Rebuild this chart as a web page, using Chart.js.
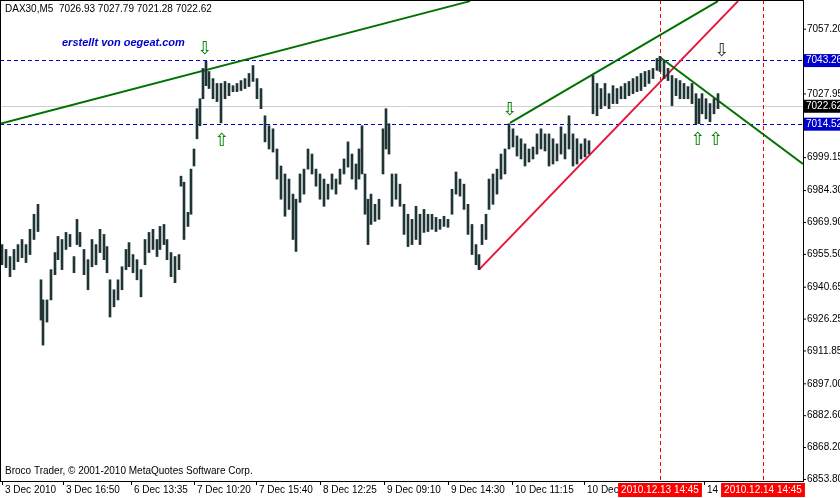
<!DOCTYPE html>
<html><head><meta charset="utf-8">
<script src="https://cdn.jsdelivr.net/npm/chart.js@4.4.1/dist/chart.umd.min.js"></script>
<style>html,body{margin:0;background:#fff}#wrap{width:840px;height:498px}</style>
</head><body><div id="wrap"><canvas id="c"></canvas></div>
<script>
// bar index (one M5 bar per pixel column), high, low
const barIdx = [2,6,10,14,18,22,26,30,34,38,41,43,47,51,55,58,62,66,70,74,77,80,84,88,92,96,100,104,107,110,114,118,122,126,129,133,137,141,145,149,153,157,160,164,167,171,175,179,181,184,188,191,194,197,200,203,206,209,213,217,221,225,229,233,237,241,245,249,253,257,261,265,269,273,277,281,285,289,293,296,300,304,308,312,316,320,324,328,332,336,340,344,348,352,356,359,362,365,368,371,375,379,383,386,389,392,396,400,404,408,412,416,420,424,428,432,436,440,444,448,452,456,460,464,468,472,476,479,482,486,489,493,497,501,505,509,513,517,521,525,529,533,537,541,545,549,553,557,561,565,569,573,577,581,585,589,593,597,601,605,609,613,617,621,625,629,633,637,641,645,649,653,657,660,664,668,672,676,680,684,688,692,696,699,702,706,710,714,718];
const highs = [6959.9,6957.7,6954.5,6957.7,6959.9,6962.2,6959.9,6966.8,6973.6,6978.1,6944.0,6934.9,6934.9,6948.6,6956.3,6963.6,6962.2,6965.4,6964.5,6954.5,6971.3,6965.4,6957.7,6953.1,6962.2,6959.9,6966.8,6964.5,6959.0,6944.0,6939.5,6944.0,6949.9,6957.7,6960.8,6955.4,6953.1,6948.6,6962.2,6965.4,6966.8,6962.2,6968.1,6969.0,6962.2,6956.3,6954.5,6955.4,6990.8,6988.1,6974.5,6994.0,7003.1,7021.3,7025.8,7039.5,7042.7,7038.1,7034.9,7032.7,7032.7,7033.6,7032.7,7031.7,7032.7,7034.0,7034.9,7037.2,7040.8,7034.9,7030.4,7018.1,7013.6,7012.2,7003.1,6995.4,6991.8,6989.5,6982.7,6980.4,6991.8,6994.0,7003.1,7000.8,6994.0,6991.8,6989.5,6987.2,6991.8,6989.5,6994.0,6998.6,7006.3,7000.8,6996.3,7003.1,7013.6,6991.8,6980.4,6982.7,6978.1,6980.4,7012.2,7021.3,7014.5,6991.8,6991.8,6987.2,6978.1,6973.6,6971.3,6977.2,6973.6,6975.8,6973.6,6973.6,6972.2,6971.3,6972.7,6971.3,6984.9,6992.7,6989.5,6987.2,6978.1,6969.0,6959.9,6955.4,6969.0,6973.6,6989.5,6991.8,6994.0,7000.8,7003.1,7014.5,7012.2,7009.0,7007.7,7005.4,7003.1,7004.0,7009.9,7012.2,7009.9,7009.9,7007.7,7005.4,7013.1,7009.9,7018.1,7009.9,7007.7,7005.4,7007.7,7006.8,7036.3,7032.7,7030.4,7032.7,7028.1,7031.7,7030.4,7031.3,7032.7,7033.6,7034.9,7035.8,7037.2,7038.1,7038.6,7039.5,7044.0,7044.9,7042.7,7039.5,7036.3,7034.9,7034.0,7032.7,7031.3,7032.7,7028.1,7025.8,7028.1,7025.8,7023.6,7025.8,7028.1];
const lows = [6950.8,6949.5,6945.4,6948.6,6952.2,6954.0,6951.8,6955.4,6962.2,6965.8,6925.8,6914.5,6924.9,6934.9,6946.3,6953.1,6948.6,6957.7,6959.0,6947.2,6959.9,6959.0,6946.3,6939.5,6949.9,6950.8,6956.3,6953.1,6947.2,6927.2,6931.8,6934.9,6939.5,6948.6,6949.9,6947.2,6944.0,6936.3,6950.8,6956.3,6957.7,6954.5,6957.7,6959.9,6953.1,6945.4,6942.7,6948.6,6986.3,6962.2,6968.1,6973.6,6995.4,7007.7,7013.6,7025.8,7031.7,7030.4,7025.8,7024.5,7014.9,7025.8,7027.2,7029.0,7029.0,7029.5,7030.4,7031.3,7033.6,7025.8,7021.3,7006.3,7003.1,7001.7,6989.5,6980.4,6972.7,6975.8,6962.2,6956.8,6979.0,6982.7,6994.0,6991.8,6986.3,6980.4,6977.2,6980.4,6984.9,6982.7,6987.2,6991.8,6994.9,6989.5,6984.9,6989.5,6991.8,6973.6,6959.9,6969.0,6970.4,6971.3,6991.8,7003.1,7000.8,6977.2,6980.4,6977.2,6964.5,6959.0,6959.9,6962.2,6959.9,6965.4,6965.8,6966.8,6965.8,6966.8,6968.1,6967.7,6973.6,6982.7,6981.8,6975.8,6964.5,6955.4,6950.8,6948.6,6959.9,6962.2,6975.8,6978.1,6982.7,6989.5,6991.8,7003.1,7004.0,6999.9,6998.6,6995.4,6997.2,6998.6,7000.8,7003.1,7002.2,6995.4,6996.3,6997.7,7000.8,6998.6,7003.1,6995.4,6996.3,6998.6,6999.5,7000.8,7019.0,7018.1,7021.3,7022.7,7021.3,7023.6,7023.6,7025.8,7025.8,7027.2,7028.1,7029.0,7029.5,7031.3,7032.7,7034.9,7038.6,7038.1,7034.9,7034.0,7022.7,7027.2,7025.8,7025.8,7025.8,7023.6,7014.5,7014.5,7019.0,7016.7,7015.4,7019.0,7021.3];

const priceTicks = [7057.20, 6999.15, 6984.30, 6969.90, 6955.50, 6940.65, 6926.25, 6911.85, 6897.00, 6882.60, 6868.20, 6853.80, 7027.95];
const timeLabels = ['3 Dec 2010','3 Dec 16:50','6 Dec 13:35','7 Dec 10:20','7 Dec 15:40','8 Dec 12:25','9 Dec 09:10','9 Dec 14:30','10 Dec 11:15','10 Dec 16','14 D'];
const timeIdx = [2,63,131,194,256,320,384,448,512,584,704];
const levelLines = [7043.26, 7014.52];
const lastPrice = 7022.62;
const markTimes = ['2010.12.13 14:45','2010.12.14 14:45'];
const markIdx = [660, 763];
const trendGreen = [[{x:0,y:7014.5},{x:470,y:7069.9}],[{x:510,y:7014.9},{x:718,y:7069.9}],[{x:659,y:7044.9},{x:803,y:6996.3}]];
const trendRed = [{x:479,y:6948.6},{x:738,y:7069.9}];
const arrowsDown = [[205,7048.0],[510,7020.5],[722,7047.0]];
const arrowsUp = [[222,7006.5],[698,7007.0],[716,7007.0]];

const F = '10px "Liberation Sans", Arial, sans-serif';
const overlay = {
  id: 'overlay',
  beforeDatasetsDraw(chart) {
    const {ctx, chartArea: a, scales: {x, y}} = chart;
    ctx.save();
    ctx.strokeStyle = '#d0d0d0'; ctx.lineWidth = 1;
    const ly = Math.round(y.getPixelForValue(lastPrice)) + 0.5;
    ctx.beginPath(); ctx.moveTo(a.left, ly); ctx.lineTo(a.right, ly); ctx.stroke();
    ctx.setLineDash([4, 3]);
    ctx.strokeStyle = '#0000cc';
    levelLines.forEach(v => { const py = Math.round(y.getPixelForValue(v)) + 0.5;
      ctx.beginPath(); ctx.moveTo(a.left, py); ctx.lineTo(a.right, py); ctx.stroke(); });
    ctx.strokeStyle = '#ff0000';
    markIdx.forEach(v => { const px = Math.round(x.getPixelForValue(v)) + 0.5;
      ctx.beginPath(); ctx.moveTo(px, a.top); ctx.lineTo(px, a.bottom); ctx.stroke(); });
    ctx.restore();
  },
  afterDraw(chart) {
    const {ctx, chartArea: a, scales: {x, y}} = chart;
    ctx.save();
    ctx.strokeStyle = '#000'; ctx.lineWidth = 1;
    ctx.strokeRect(a.left + 0.5, a.top + 0.5, a.right - a.left, a.bottom - a.top);
    ctx.font = F; ctx.textBaseline = 'middle'; ctx.fillStyle = '#000';
    priceTicks.forEach(v => { const py = y.getPixelForValue(v);
      ctx.beginPath(); ctx.moveTo(a.right, py); ctx.lineTo(a.right + 3, py); ctx.stroke();
      ctx.fillText(v.toFixed(2), a.right + 4, py); });
    const box = (v, bg) => { const py = y.getPixelForValue(v);
      ctx.fillStyle = bg; ctx.fillRect(a.right + 1, py - 6, 36, 13);
      ctx.fillStyle = '#fff'; ctx.fillText(v.toFixed(2), a.right + 3, py + 0.5); };
    levelLines.forEach(v => box(v, '#0000cc'));
    box(lastPrice, '#000');
    ctx.fillStyle = '#000'; ctx.textBaseline = 'top';
    timeLabels.forEach((t, i) => { const px = x.getPixelForValue(timeIdx[i]);
      ctx.beginPath(); ctx.moveTo(px + 0.5, a.bottom); ctx.lineTo(px + 0.5, a.bottom + 4); ctx.stroke();
      ctx.fillText(t, px + 3, a.bottom + 4); });
    markTimes.forEach((t, i) => { const px = x.getPixelForValue(markIdx[i]);
      const w = ctx.measureText(t).width + 6;
      ctx.fillStyle = '#ff0000'; ctx.fillRect(px - w / 2, a.bottom + 2, w, 14);
      ctx.fillStyle = '#fff'; ctx.fillText(t, px - w / 2 + 3, a.bottom + 4); });
    ctx.fillStyle = '#000';
    ctx.fillText('DAX30,M5  7026.93 7027.79 7021.28 7022.62', 5, 4);
    ctx.fillText('Broco Trader, \u00a9 2001-2010 MetaQuotes Software Corp.', 5, a.bottom - 15);
    ctx.font = 'italic bold 11px "Liberation Sans", Arial, sans-serif'; ctx.fillStyle = '#0000cc';
    ctx.fillText('erstellt von oegeat.com', 62, 37);
    ctx.font = '18px "DejaVu Sans", sans-serif'; ctx.textAlign = 'center'; ctx.textBaseline = 'middle';
    arrowsDown.forEach(([i, v], k) => { ctx.fillStyle = k === 2 ? '#333' : '#008000';
      ctx.fillText('\u21e9', x.getPixelForValue(i), y.getPixelForValue(v)); });
    ctx.fillStyle = '#008000';
    arrowsUp.forEach(([i, v]) => ctx.fillText('\u21e7', x.getPixelForValue(i), y.getPixelForValue(v)));
    ctx.restore();
  }
};

const line = (data, color) => ({ type: 'line', data, borderColor: color, borderWidth: 2, pointRadius: 0, clip: true });

new Chart(document.getElementById('c'), {
  type: 'bar',
  data: {
    datasets: [
      { data: barIdx.map((v, i) => ({ x: v, y: [lows[i], highs[i]] })), backgroundColor: '#1f3535', barThickness: 2, grouped: false },
      line(trendGreen[0], '#007000'),
      line(trendGreen[1], '#007000'),
      line(trendGreen[2], '#007000'),
      line(trendRed, '#e8143c')
    ]
  },
  options: {
    responsive: true, maintainAspectRatio: false, animation: false,
    layout: { padding: { left: 0, right: 37, top: 0, bottom: 17 } },
    plugins: { legend: { display: false }, tooltip: { enabled: false } },
    scales: {
      x: { type: 'linear', min: 0, max: 803, offset: false, display: false },
      y: { min: 6853.1, max: 7070.4, display: false }
    }
  },
  plugins: [overlay]
});
</script></body></html>
